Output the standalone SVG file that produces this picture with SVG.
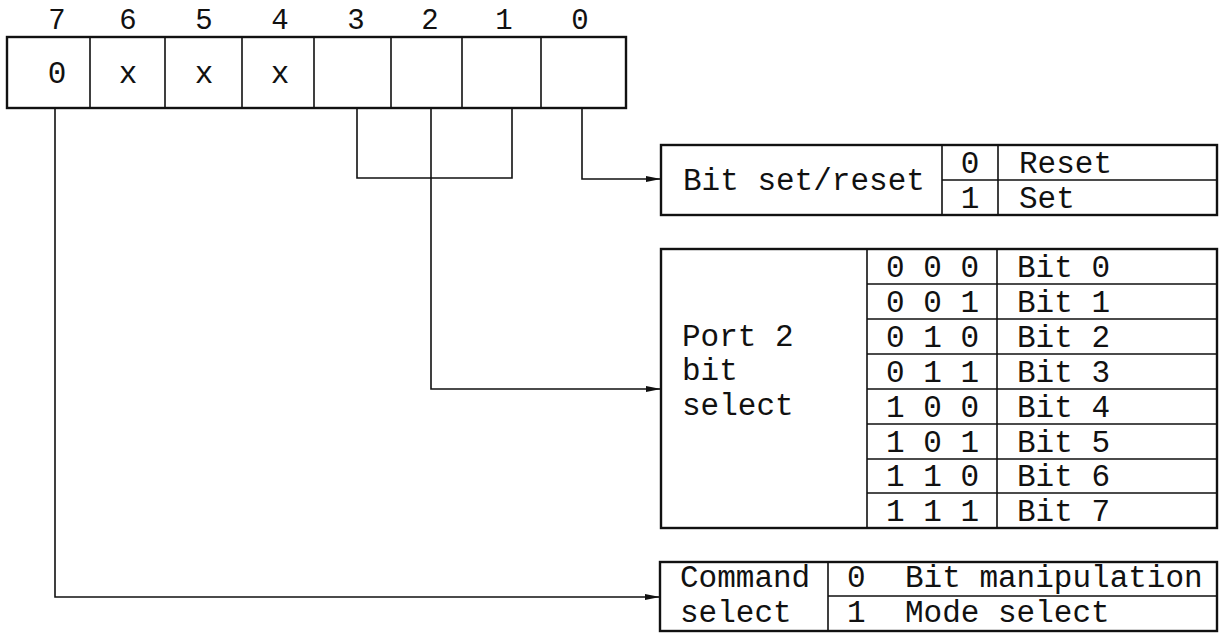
<svg xmlns="http://www.w3.org/2000/svg" width="1223" height="633" viewBox="0 0 1223 633">
<style>
text{font-family:"Liberation Mono","Courier New",monospace;font-size:31px;fill:#111}
.lbl{font-size:29px}
.c{text-anchor:middle}
.frame{fill:#fff;stroke:#111;stroke-width:2.4}
.in{fill:none;stroke:#111;stroke-width:1.6}
.con{fill:none;stroke:#111;stroke-width:1.6}
</style>
<defs>
<marker id="arr" markerWidth="16" markerHeight="8" refX="15" refY="4" orient="auto" markerUnits="userSpaceOnUse">
<path d="M0,1 L15,4 L0,7 Z" fill="#111"/>
</marker>
</defs>
<rect width="1223" height="633" fill="#fff"/>

<g id="register">
<rect class="frame" x="7" y="37" width="619" height="71"/>
<path class="in" d="M90,37V108M165,37V108M242,37V108M314,37V108M391,37V108M462,37V108M541,37V108"/>
<text class="lbl c" x="57" y="29">7</text>
<text class="lbl c" x="128" y="29">6</text>
<text class="lbl c" x="204" y="29">5</text>
<text class="lbl c" x="280" y="29">4</text>
<text class="lbl c" x="356" y="29">3</text>
<text class="lbl c" x="430" y="29">2</text>
<text class="lbl c" x="504" y="29">1</text>
<text class="lbl c" x="580" y="29">0</text>
<text class="c" x="57" y="83">0</text>
<text class="c" x="128" y="83">x</text>
<text class="c" x="204" y="83">x</text>
<text class="c" x="280" y="83">x</text>
</g>

<g id="connectors">
<path class="con" d="M357,108V178H512V108"/>
<path class="con" d="M431,108V389H661" marker-end="url(#arr)"/>
<path class="con" d="M582,108V179H661" marker-end="url(#arr)"/>
<path class="con" d="M55,108V597H660" marker-end="url(#arr)"/>
</g>

<g id="bit-set-reset">
<rect class="frame" x="661" y="145" width="556" height="70"/>
<path class="in" d="M942,145V215M998,145V215M942,180H1217"/>
<text x="683" y="190">Bit set/reset</text>
<text class="c" x="970" y="173">0</text>
<text class="c" x="970" y="208">1</text>
<text x="1019" y="173">Reset</text>
<text x="1019" y="208">Set</text>
</g>

<g id="port2-bit-select">
<rect class="frame" x="661" y="249" width="556" height="279"/>
<path class="in" d="M867,249V528M997,249V528M867,284H1217M867,319H1217M867,354H1217M867,389H1217M867,424H1217M867,459H1217M867,493H1217"/>
<text x="682" y="346">Port 2</text>
<text x="682" y="380">bit</text>
<text x="682" y="415">select</text>
<text x="886" y="277">0 0 0</text>
<text x="886" y="312">0 0 1</text>
<text x="886" y="347">0 1 0</text>
<text x="886" y="382">0 1 1</text>
<text x="886" y="417">1 0 0</text>
<text x="886" y="452">1 0 1</text>
<text x="886" y="486">1 1 0</text>
<text x="886" y="521">1 1 1</text>
<text x="1017" y="277">Bit 0</text>
<text x="1017" y="312">Bit 1</text>
<text x="1017" y="347">Bit 2</text>
<text x="1017" y="382">Bit 3</text>
<text x="1017" y="417">Bit 4</text>
<text x="1017" y="452">Bit 5</text>
<text x="1017" y="486">Bit 6</text>
<text x="1017" y="521">Bit 7</text>
</g>

<g id="command-select">
<rect class="frame" x="660" y="562" width="557" height="69"/>
<path class="in" d="M828,562V631M828,596H1217"/>
<text x="680" y="587">Command</text>
<text x="680" y="622">select</text>
<text x="847" y="587">0</text>
<text x="847" y="622">1</text>
<text x="905" y="587">Bit manipulation</text>
<text x="905" y="622">Mode select</text>
</g>
</svg>
